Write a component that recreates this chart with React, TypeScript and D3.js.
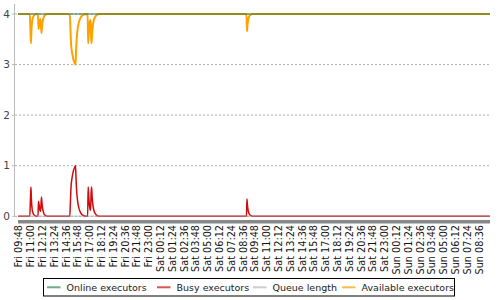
import React from "react";
import * as d3 from "d3";

// ---- data (minutes since Fri 09:42) ----
const times = [
  0, 72, 76, 79, 82, 86, 92, 100, 112, 122, 125, 129, 134, 138, 143, 147, 152, 158, 166, 177,
  316, 320, 324, 328, 334, 340, 346, 351, 354, 358, 363, 370, 378, 388, 402, 420,
  425, 428, 432, 436, 440, 443, 446, 449, 452, 456, 462, 470, 480, 492,
  1394, 1397, 1400, 1404, 1410, 1418, 1430, 2880,
];
const busyExecutors = [
  0, 0, 0.35, 0.58, 0.32, 0.15, 0.06, 0.02, 0, 0, 0.3, 0.22, 0.12, 0.1, 0.38, 0.24, 0.12, 0.05, 0.02, 0,
  0, 0.3, 0.6, 0.72, 0.84, 0.92, 0.97, 1.0, 0.75, 0.5, 0.32, 0.18, 0.1, 0.04, 0.01, 0,
  0, 0.58, 0.38, 0.22, 0.14, 0.12, 0.45, 0.58, 0.4, 0.25, 0.13, 0.06, 0.02, 0,
  0, 0.34, 0.22, 0.12, 0.05, 0.02, 0, 0,
];
const availableExecutors = [
  4, 4, 3.65, 3.42, 3.68, 3.85, 3.94, 3.98, 4, 4, 3.7, 3.78, 3.88, 3.9, 3.62, 3.76, 3.88, 3.95, 3.98, 4,
  4, 3.7, 3.4, 3.28, 3.16, 3.08, 3.03, 3.0, 3.25, 3.5, 3.68, 3.82, 3.9, 3.96, 3.99, 4,
  4, 3.42, 3.62, 3.78, 3.86, 3.88, 3.55, 3.42, 3.6, 3.75, 3.87, 3.94, 3.98, 4,
  4, 3.66, 3.78, 3.88, 3.95, 3.98, 4, 4,
];
const onlineExecutors = times.map(() => 4);
const queueLength = times.map(() => 0);

const xLabels = [
  "Fri 09:48", "Fri 11:00", "Fri 12:12", "Fri 13:24", "Fri 14:36", "Fri 15:48", "Fri 17:00", "Fri 18:12",
  "Fri 19:24", "Fri 20:36", "Fri 21:48", "Fri 23:00", "Sat 00:12", "Sat 01:24", "Sat 02:36", "Sat 03:48",
  "Sat 05:00", "Sat 06:12", "Sat 07:24", "Sat 08:36", "Sat 09:48", "Sat 11:00", "Sat 12:12", "Sat 13:24",
  "Sat 14:36", "Sat 15:48", "Sat 17:00", "Sat 18:12", "Sat 19:24", "Sat 20:36", "Sat 21:48", "Sat 23:00",
  "Sun 00:12", "Sun 01:24", "Sun 02:36", "Sun 03:48", "Sun 05:00", "Sun 06:12", "Sun 07:24", "Sun 08:36",
];
const labelMinutes = xLabels.map((_, i) => 6 + 72 * i);
const yTicks = [0, 1, 2, 3, 4];

const legendItems = [
  { name: "Online executors", color: "#2d8a55", x: 47, op: 0.7 },
  { name: "Busy executors", color: "#d20a0a", x: 157, op: 0.7 },
  { name: "Queue length", color: "#aaaaaa", x: 253, op: 0.6 },
  { name: "Available executors", color: "#ffa000", x: 342, op: 0.7 },
];

const FONT = "'DejaVu Sans', sans-serif";

export default function App() {
  const x = d3.scaleLinear().domain([0, 2880]).range([18, 490]);
  const y = d3.scaleLinear().domain([0, 4]).range([216.3, 14]);

  const mk = (vals: number[]) =>
    d3
      .line<number>()
      .x((_, i) => x(times[i]))
      .y((v) => y(v))
      .curve(d3.curveMonotoneX)(vals) || "";

  return (
    <svg
      width={500}
      height={300}
      style={{ position: "absolute", left: 0, top: 0, background: "#fff" }}
      fontFamily={FONT}
    >
      <rect x={0} y={0} width={500} height={300} fill="#fff" />
      {/* grid */}
      {yTicks.map((t) => (
        <line
          key={"g" + t}
          x1={15}
          x2={490}
          y1={y(t)}
          y2={y(t)}
          stroke="#999"
          strokeWidth={0.8}
          strokeDasharray="2,2"
        />
      ))}
      {/* y axis */}
      <line x1={14.5} x2={14.5} y1={4} y2={217} stroke="#bbb" strokeWidth={1} />
      {yTicks.map((t) => (
        <g key={"t" + t}>
          <line x1={12} x2={14.5} y1={y(t)} y2={y(t)} stroke="#bbb" />
          <text x={10} y={y(t)} dy="0.35em" textAnchor="end" fontSize={10.5} fill="#444">
            {t}
          </text>
        </g>
      ))}
      {/* series */}
      <path d={mk(busyExecutors)} fill="none" stroke="#d20a0a" strokeWidth={1.5} />
      <path d={mk(queueLength)} fill="none" stroke="#aaaaaa" strokeWidth={1.5} strokeOpacity={0.5} />
      <path d={mk(availableExecutors)} fill="none" stroke="#ffa200" strokeWidth={2} />
      <path d={mk(onlineExecutors)} fill="none" stroke="#2d733c" strokeWidth={2} strokeOpacity={0.5} />
      {/* x axis band */}
      <rect x={18} y={220} width={472} height={3.5} fill="#888" />
      {xLabels.map((l, i) => (
        <text
          key={l}
          transform={`translate(${x(labelMinutes[i])},225) rotate(-90)`}
          textAnchor="end"
          dy="0.35em"
          fontSize={9.7}
          fill="#111"
        >
          {l}
        </text>
      ))}
      {/* legend */}
      <rect x={43.5} y={278.5} width={411} height={17.5} fill="#fff" stroke="#000" strokeWidth={1} />
      {legendItems.map((it) => (
        <g key={it.name}>
          <line x1={it.x} x2={it.x + 13.5} y1={287.3} y2={287.3} stroke={it.color} strokeWidth={2} strokeOpacity={it.op} />
          <text x={it.x + 19.5} y={287.3} dy="0.35em" fontSize={9.5} fill="#222">
            {it.name}
          </text>
        </g>
      ))}
    </svg>
  );
}
